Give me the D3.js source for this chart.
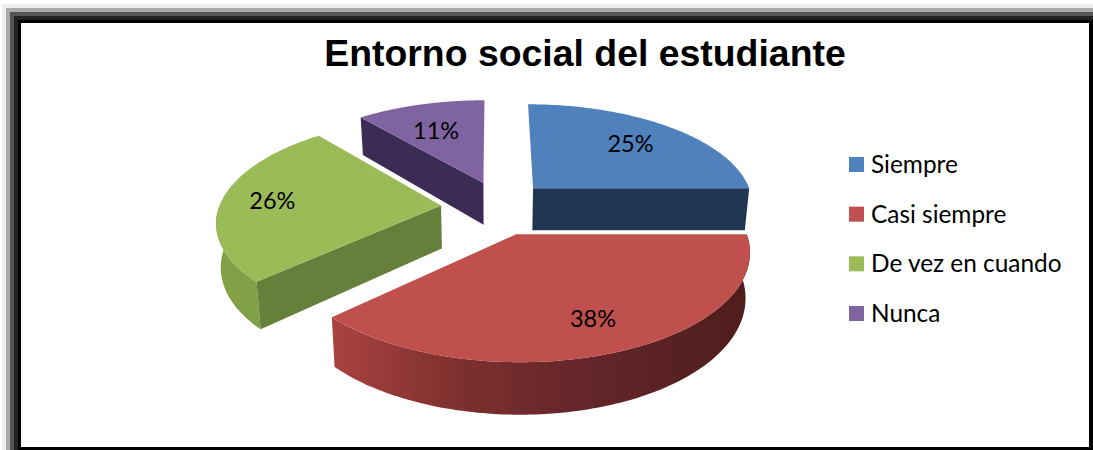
<!DOCTYPE html>
<html lang="es">
<head>
<meta charset="utf-8">
<title>Entorno social del estudiante</title>
<script src="https://cdn.jsdelivr.net/npm/d3@7"></script>
<style>
  html, body { margin: 0; padding: 0; background: #fff; }
  svg { display: block; }
</style>
</head>
<body>
<svg id="chart" width="1093" height="450"></svg>
<script>
// Chart content
const chartTitle = "Entorno social del estudiante";
const categories = ["Siempre", "Casi siempre", "De vez en cuando", "Nunca"];
const percentages = [25, 38, 26, 11];

// Slice styling, in category order
const topColors = ["#4f81bd", "#c0504d", "#9bbb59", "#8064a2"];
const cutColors = ["#1f3552", "#5a211f", "#667f3a", "#3b2c56"];
const rimColors = ["#2a4768", "url(#rimRed)", "#84a046", "#4a3768"];

// Explosion of each slice on the pie plane (sideways, towards the viewer)
const shiftX = [0.19, 0.105, -0.23, -0.04];
const shiftV = [-0.19, 0.26, -0.015, -0.245];
// Radial position of each percentage label, as a fraction of the radius
const labelReach = [0.7, 0.75, 0.77, 0.64];
// Small sideways nudge of each percentage label, in pixels
const labelNudge = [0, 3, 0, -5];

// Perspective view of the pie plane
const view = { cx: 492, cy: 207, scaleX: 222, scaleY: 101, persp: 0.143, thick: 43, taper: 0.017 };

function project(X, V, h = 0) {
  const w = 1 / (1 - view.persp * V);
  return [
    view.cx + view.scaleX * X * w * (1 - view.taper * h),
    view.cy + view.scaleY * V * w + view.thick * w * h
  ];
}

const svg = d3.select("#chart");
const defs = svg.append("defs");

const rimGrad = defs.append("linearGradient").attr("id", "rimRed")
  .attr("gradientUnits", "userSpaceOnUse")
  .attr("x1", 330).attr("x2", 750).attr("y1", 0).attr("y2", 0);
rimGrad.selectAll("stop")
  .data([[0, "#aa4340"], [0.3, "#7e302e"], [0.6, "#64262a"], [1, "#4f1d1b"]])
  .join("stop")
  .attr("offset", d => d[0])
  .attr("stop-color", d => d[1]);

// Window-like frame: a soft shadow on the top and left, solid black on the others
const shadowBands = [
  [2, "#eeeeee"], [6, "#aaaaaa"], [10, "#555555"], [14, "#222222"], [18, "#000000"]
];
svg.selectAll("rect.band")
  .data(shadowBands)
  .join("rect")
  .attr("class", "band")
  .attr("x", d => d[0])
  .attr("y", d => d[0] + 2)
  .attr("width", d => 1093 - d[0])
  .attr("height", d => 450 - d[0] - 2)
  .attr("fill", d => d[1]);
svg.append("rect")
  .attr("x", 21).attr("y", 23).attr("width", 1068).attr("height", 424)
  .attr("fill", "#ffffff");

// Title
svg.append("text")
  .attr("x", 585).attr("y", 66)
  .attr("text-anchor", "middle")
  .attr("font-family", "'Liberation Sans', Arial, sans-serif")
  .attr("font-weight", 700)
  .attr("font-size", 37.4)
  .attr("fill", "#000")
  .text(chartTitle);

// Slices, from the back of the pie to the front
const arcs = d3.pie().sort(null).value(d => d)(percentages)
  .map((a, i) => ({ ...a, i }))
  .sort((a, b) => shiftV[a.i] - shiftV[b.i]);

const outline = d3.line();

const slices = svg.append("g").selectAll("g")
  .data(arcs)
  .join("g");

function angleAt(d, t) {
  return d.startAngle + (d.endAngle - d.startAngle) * t;
}
function rimPoint(d, t, h) {
  const a = angleAt(d, t);
  return project(shiftX[d.i] + Math.sin(a), shiftV[d.i] - Math.cos(a), h);
}
const steps = d3.range(0, 1.0001, 1 / 120);

// Curved outer wall: just the part of the rim on the viewer's side of the pie
function rimWall(d) {
  const front = steps.filter(t => Math.cos(angleAt(d, t)) <= 0);
  if (front.length < 2) return null;
  return outline([
    ...front.map(t => rimPoint(d, t, 0)),
    ...front.slice().reverse().map(t => rimPoint(d, t, 1))
  ]) + "Z";
}
slices.append("path")
  .attr("d", rimWall)
  .attr("fill", d => rimColors[d.i]);

// Flat walls along the cut edges, only where the edge faces the viewer
function cutFacesViewer(d, t) {
  const towardsViewer = t === 0 ? -Math.sin(d.startAngle) : Math.sin(d.endAngle);
  return towardsViewer > 1e-6;
}
function cutWall(d, t) {
  if (!cutFacesViewer(d, t)) return null;
  const apexTop = project(shiftX[d.i], shiftV[d.i], 0);
  const apexBottom = project(shiftX[d.i], shiftV[d.i], 1);
  return outline([apexTop, rimPoint(d, t, 0), rimPoint(d, t, 1), apexBottom]) + "Z";
}
[0, 1].forEach(t => {
  slices.append("path")
    .attr("d", d => cutWall(d, t))
    .attr("fill", d => cutColors[d.i]);
});

// Top faces
slices.append("path")
  .attr("d", d => outline([
    project(shiftX[d.i], shiftV[d.i], 0),
    ...steps.map(t => rimPoint(d, t, 0))
  ]) + "Z")
  .attr("fill", d => topColors[d.i]);

// Percentage labels
const labelFont = "Lato, 'Open Sans', sans-serif";
svg.append("g").selectAll("text")
  .data(arcs)
  .join("text")
  .attr("transform", d => {
    const mid = (d.startAngle + d.endAngle) / 2, r = labelReach[d.i];
    const [x, y] = project(shiftX[d.i] + r * Math.sin(mid), shiftV[d.i] - r * Math.cos(mid));
    return `translate(${x + labelNudge[d.i]},${y})`;
  })
  .attr("text-anchor", "middle")
  .attr("dy", "0.35em")
  .attr("font-family", labelFont)
  .attr("font-size", 23.5)
  .attr("fill", "#000")
  .text(d => d.value + "%");

// Legend
const legendY = d3.scalePoint().domain(categories).range([164.5, 313.5]);
const legend = svg.append("g").selectAll("g")
  .data(categories)
  .join("g")
  .attr("transform", d => `translate(849,${legendY(d)})`);
legend.append("rect")
  .attr("x", 0).attr("y", -7.5).attr("width", 15).attr("height", 15)
  .attr("fill", (d, i) => topColors[i]);
legend.append("text")
  .attr("x", 22).attr("dy", "0.35em")
  .attr("font-family", labelFont)
  .attr("font-size", 24.4)
  .attr("fill", "#000")
  .text(d => d);
</script>
</body>
</html>
